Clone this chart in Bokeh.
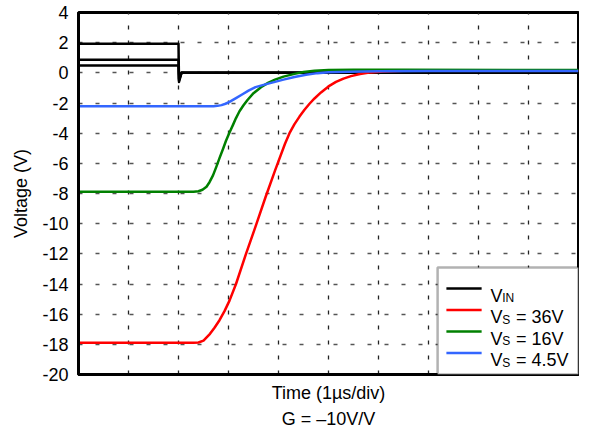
from bokeh.plotting import figure
from bokeh.models import Range1d, FixedTicker, Label, BoxAnnotation, Arrow, Title
from bokeh.embed import file_html
from bokeh.resources import INLINE

# ---------------- data ----------------
y_ticks = [-20, -18, -16, -14, -12, -10, -8, -6, -4, -2, 0, 2, 4]
y_tick_labels = ["-20", "-18", "-16", "-14", "-12", "-10", "-8", "-6", "-4", "-2", "0", "2", "4"]
x_divs = [1, 2, 3, 4, 5, 6, 7, 8, 9]

vin_t = [0.0, 2.0, 2.01, 2.06, 10.0]
vin_a = [1.92, 1.92, -0.6, 0.0, 0.0]
vin_b = [0.86, 0.86, -0.5, 0.0, 0.0]
vin_c = [0.48, 0.48, -0.4, 0.0, 0.0]

red_t = [0.0, 2.30, 2.40, 2.50, 2.63, 2.72, 2.82, 2.92, 3.02, 3.15, 3.35, 3.54, 3.74,
         3.93, 4.13, 4.22, 4.32, 4.42, 4.52, 4.62, 4.72, 4.85, 5.0, 5.15, 5.3, 5.45, 5.63,
         5.85, 6.09, 6.5, 7.0, 8.0, 10.0]
red_v = [-17.9, -17.9, -17.88, -17.75, -17.3, -16.9, -16.4, -15.8, -15.1, -14.0, -12.0, -10.2, -8.25,
         -6.48, -4.7, -4.0, -3.4, -2.9, -2.45, -2.05, -1.7, -1.3, -0.9, -0.6, -0.38, -0.22, -0.08,
         0.03, 0.09, 0.13, 0.15, 0.16, 0.16]

green_t = [0.0, 2.30, 2.40, 2.48, 2.56, 2.62, 2.69, 2.76, 2.82, 2.89, 2.95, 3.02, 3.09, 3.15,
           3.22, 3.30, 3.38, 3.5, 3.65, 3.8, 3.93, 4.1, 4.32, 4.5, 4.72, 5.0, 5.5, 6.5, 10.0]
green_v = [-7.88, -7.88, -7.85, -7.75, -7.55, -7.25, -6.8, -6.2, -5.65, -5.05, -4.5, -3.95, -3.45, -3.0,
           -2.55, -2.15, -1.8, -1.35, -0.95, -0.65, -0.45, -0.25, -0.07, 0.05, 0.14, 0.18, 0.2, 0.2, 0.19]

blue_t = [0.0, 2.60, 2.70, 2.78, 2.86, 2.94, 3.02, 3.15, 3.28, 3.40, 3.54, 3.70, 3.93, 4.10,
          4.32, 4.55, 4.78, 5.0, 5.4, 6.0, 7.0, 10.0]
blue_v = [-2.22, -2.22, -2.21, -2.19, -2.14, -2.05, -1.93, -1.68, -1.42, -1.18, -0.95, -0.8, -0.6, -0.45,
          -0.28, -0.13, -0.02, 0.04, 0.08, 0.11, 0.12, 0.12]

legend_colors = ["black", "#ff0000", "#008000", "#3366ff"]
legend_subs = ["IN", "S", "S", "S"]
legend_rest = ["", "= 36V", "= 16V", "= 4.5V"]

FONT = "Liberation Sans"

# ---------------- figure ----------------
p = figure(width=579, height=429, output_backend="svg", toolbar_location=None,
           x_range=Range1d(0, 10), y_range=Range1d(-20, 4),
           min_border_left=78, min_border_right=1, min_border_top=12, min_border_bottom=0)
p.background_fill_color = "white"
p.border_fill_color = "white"
p.outline_line_color = "black"
p.outline_line_width = 3

# y axis
p.yaxis.ticker = FixedTicker(ticks=y_ticks)
p.yaxis.major_label_overrides = {t: l for t, l in zip(y_ticks, y_tick_labels)}
p.yaxis.major_label_text_font = FONT
p.yaxis.major_label_text_font_size = "18px"
p.yaxis.major_label_text_color = "black"
p.yaxis.major_label_standoff = 10
p.yaxis.major_tick_out = 0
p.yaxis.major_tick_in = 0
p.yaxis.minor_tick_out = 0
p.yaxis.minor_tick_in = 0
p.yaxis.axis_line_width = 3
p.yaxis.axis_label = "Voltage (V)"
p.yaxis.axis_label_text_font = FONT
p.yaxis.axis_label_text_font_size = "18px"
p.yaxis.axis_label_text_font_style = "normal"
p.yaxis.axis_label_text_color = "black"
p.yaxis.axis_label_standoff = 8

# x axis
p.xaxis.ticker = FixedTicker(ticks=[])
p.xaxis.major_tick_out = 0
p.xaxis.major_tick_in = 0
p.xaxis.minor_tick_out = 0
p.xaxis.minor_tick_in = 0
p.xaxis.axis_line_width = 3
p.xaxis.axis_label = "Time (1\u00b5s/div)"
p.xaxis.axis_label_text_font = FONT
p.xaxis.axis_label_text_font_size = "18px"
p.xaxis.axis_label_text_font_style = "normal"
p.xaxis.axis_label_text_color = "black"
p.xaxis.axis_label_standoff = 8

# gain note under the axis label
gain = Title(text="G = \u201310V/V", align="center", text_font=FONT, text_font_size="18px",
             text_font_style="normal", text_color="black", standoff=2, offset=-7)
p.add_layout(gain, "below")

# grids
p.xgrid.ticker = FixedTicker(ticks=x_divs)
p.xgrid.grid_line_color = "#222222"
p.xgrid.grid_line_width = 1.3
p.xgrid.grid_line_dash = "4 11"
p.ygrid.ticker = FixedTicker(ticks=y_ticks)
p.ygrid.grid_line_color = "#555555"
p.ygrid.grid_line_width = 1.3
p.ygrid.grid_line_dash = "4 13"

# data lines
for v in (vin_a, vin_b, vin_c):
    p.line(vin_t, v, line_color="black", line_width=2.5, line_join="round")
p.line(red_t, red_v, line_color=legend_colors[1], line_width=2.5, line_join="round")
p.line(green_t, green_v, line_color=legend_colors[2], line_width=2.5, line_join="round")
p.line(blue_t, blue_v, line_color=legend_colors[3], line_width=2.5, line_join="round")

# ---------------- manual legend (positions from reference pixels) ----------------
def px2x(px):
    return (px - 79.0) / 511.0 * 10.0

def py2y(py):
    return 4.0 - (py - 12.0) / 362.0 * 24.0

box = BoxAnnotation(left=px2x(446), right=10, top=py2y(267), bottom=-20,
                    fill_color="white", fill_alpha=1.0, line_color="black", line_width=2.5)
p.add_layout(box)

rows = [288, 309.5, 331, 352.5]
for r, c, sub, rest in zip(rows, legend_colors, legend_subs, legend_rest):
    p.add_layout(Arrow(end=None, x_start=px2x(455), x_end=px2x(491), y_start=py2y(r), y_end=py2y(r),
                       line_color=c, line_width=2.5))
    p.add_layout(Label(x=px2x(500), y=py2y(r + 7), text="V", text_font=FONT, text_font_size="18px",
                       text_baseline="alphabetic", text_align="left", text_color="black"))
    p.add_layout(Label(x=px2x(512), y=py2y(r + 9.5), text=sub, text_font=FONT, text_font_size="12px",
                       text_baseline="alphabetic", text_align="left", text_color="black"))
    if rest:
        p.add_layout(Label(x=px2x(526), y=py2y(r + 7), text=rest, text_font=FONT, text_font_size="18px",
                           text_baseline="alphabetic", text_align="left", text_color="black"))

open("out.html", "w").write(file_html(p, INLINE))
